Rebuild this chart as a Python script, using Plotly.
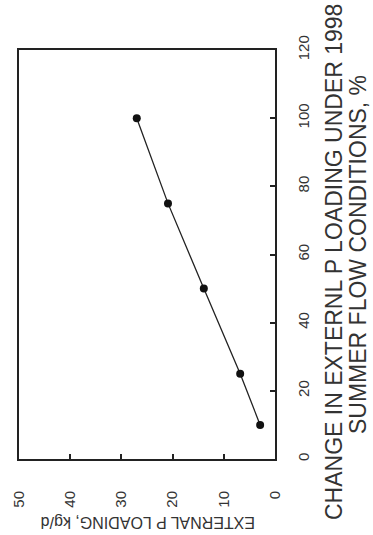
import plotly.graph_objects as go

# Data (rotated chart: % change runs vertically, loading runs horizontally)
pct_change = [10, 25, 50, 75, 100]
p_loading = [2.9, 6.8, 13.9, 20.9, 27.0]
pct_ticks = [0, 20, 40, 60, 80, 100, 120]
load_ticks = [0, 10, 20, 30, 40, 50]

FONT = "Liberation Sans, Arial, sans-serif"
W, H = 373, 535
L, R, T, B = 19, 98, 50, 76
pw, ph = W - L - R, H - T - B

def px_to_paper(x, y):
    return (x - L) / pw, (H - B - y) / ph

fig = go.Figure()
fig.add_trace(go.Scatter(
    x=p_loading, y=pct_change, mode="lines+markers",
    line=dict(color="#222", width=1.3),
    marker=dict(color="#111", size=8),
    showlegend=False,
))

fig.update_xaxes(
    range=[50, 0], tickvals=load_ticks, ticktext=[str(v) for v in load_ticks],
    tickangle=-90, ticks="inside", ticklen=5, tickwidth=1.5, tickcolor="#222",
    showline=True, linecolor="#222", linewidth=2, mirror=True,
    showgrid=False, zeroline=False,
    tickfont=dict(family=FONT, size=15, color="#333"),
    ticklabelstandoff=24,
)
fig.update_yaxes(
    range=[0, 120], side="right", tickvals=pct_ticks,
    tickangle=-90, ticks="inside", ticklen=5, tickwidth=1.5, tickcolor="#222",
    showline=True, linecolor="#222", linewidth=2, mirror=True,
    showgrid=False, zeroline=False,
    tickfont=dict(family=FONT, size=15, color="#333"),
    ticklabelstandoff=14,
)

annotations = []
bx, by = px_to_paper(148, 523)
annotations.append(dict(text="EXTERNAL P LOADING, kg/d", x=bx, y=by, xref="paper", yref="paper",
                        showarrow=False, textangle=180, xanchor="center", yanchor="middle",
                        font=dict(family=FONT, size=16, color="#333")))
l1x, l1y = px_to_paper(334, 262)
annotations.append(dict(text="CHANGE IN EXTERNL P LOADING UNDER 1998", x=l1x, y=l1y,
                        xref="paper", yref="paper", showarrow=False, textangle=-90,
                        xanchor="center", yanchor="middle",
                        font=dict(family=FONT, size=23, color="#333")))
l2x, l2y = px_to_paper(358, 255)
annotations.append(dict(text="SUMMER FLOW CONDITIONS, %", x=l2x, y=l2y,
                        xref="paper", yref="paper", showarrow=False, textangle=-90,
                        xanchor="center", yanchor="middle",
                        font=dict(family=FONT, size=23, color="#333")))

fig.update_layout(
    width=W, height=H,
    margin=dict(l=L, r=R, t=T, b=B, autoexpand=False),
    paper_bgcolor="white", plot_bgcolor="white",
    annotations=annotations,
)

fig.write_html("out.html", config={"displayModeBar": False},
               post_script="document.body.style.margin='0';document.body.style.padding='0';")
